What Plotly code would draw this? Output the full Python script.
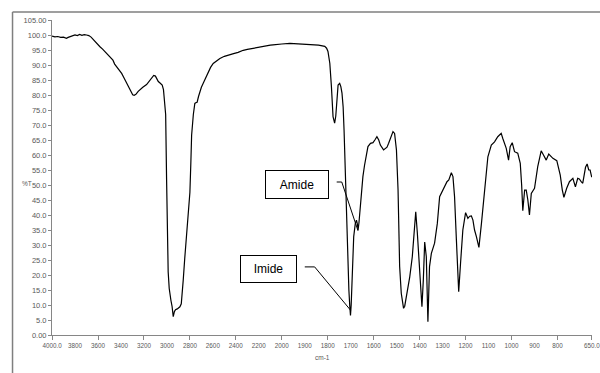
import plotly.graph_objects as go

# ---- data ----
wavenumber = [4000, 3975, 3950, 3925, 3900, 3875, 3860, 3840, 3820, 3800, 3780, 3760, 3740, 3720, 3700, 3680, 3660, 3640, 3620, 3600,
              3583, 3560, 3540, 3520, 3496, 3470, 3455, 3437, 3415, 3394, 3372, 3350, 3325, 3298, 3285, 3270, 3250, 3235, 3210, 3177,
              3150, 3130, 3115, 3100, 3090, 3075, 3060, 3041, 3030, 3020, 3011, 3003, 2995, 2989, 2980, 2974, 2965, 2955, 2945, 2935,
              2925, 2910, 2900, 2887, 2875, 2866, 2858, 2845, 2829, 2815, 2800, 2792, 2785, 2770, 2757, 2745, 2737, 2725, 2713, 2700,
              2684, 2660, 2641, 2620, 2597, 2570, 2539, 2500, 2452, 2420, 2380, 2336, 2300, 2250, 2200, 2150, 2100, 2076, 2040, 2000,
              1965, 1930, 1900, 1864, 1840, 1813, 1805, 1799, 1791, 1784, 1777, 1770, 1765, 1762, 1755, 1748, 1743, 1738, 1733, 1729,
              1722, 1714, 1708, 1704, 1701, 1698, 1696, 1690, 1687, 1680, 1675, 1671, 1668, 1664, 1661, 1655, 1647, 1640, 1632, 1625,
              1614, 1603, 1595, 1586, 1578, 1571, 1557, 1548, 1542, 1535, 1530, 1520, 1516, 1509, 1501, 1494, 1487, 1480, 1470, 1465,
              1458, 1443, 1432, 1425, 1417, 1410, 1400, 1390, 1384, 1378, 1371, 1364, 1357, 1349, 1335, 1323, 1313, 1299, 1290, 1281,
              1273, 1262, 1255, 1248, 1240, 1230, 1222, 1212, 1200, 1195, 1190, 1182, 1175, 1168, 1161, 1153, 1142, 1131, 1117, 1103,
              1088, 1074, 1060, 1045, 1038, 1030, 1023, 1013, 1006, 997, 987, 973, 962, 956, 951, 943, 936, 929, 922, 914,
              900, 886, 871, 861, 849, 838, 820, 803, 788, 779, 772, 760, 748, 733, 726, 722, 712, 705, 697, 690,
              678, 671, 664, 658, 651]
transmittance = [99.6, 99.4, 99.5, 99.2, 99.3, 98.9, 99.2, 99.5, 99.8, 100.0, 99.8, 100.2, 99.9, 100.1, 100.0, 99.8, 99.3, 98.4, 97.6, 96.8,
                 96.1, 95.3, 94.4, 93.6, 92.8, 91.6, 90.3, 89.4, 88.4, 87.2, 85.6, 83.9, 82.0, 80.1, 79.9, 80.2, 81.2, 81.8, 82.6, 83.5,
                 84.8, 86.0, 86.5, 86.3, 85.6, 84.5, 84.0, 83.3, 81.8, 78.5, 73.5, 52.0, 32.0, 21.0, 15.5, 13.5, 11.5, 9.5, 6.1, 7.8,
                 8.4, 8.7, 9.0, 9.4, 10.4, 13.5, 18.3, 25.5, 32.8, 40.5, 47.5, 57.0, 66.6, 73.5, 77.2, 77.5, 77.6, 79.5, 81.2, 82.6,
                 83.9, 86.0, 87.6, 89.2, 90.5, 91.3, 92.2, 92.9, 93.6, 93.8, 94.2, 94.9, 95.2, 95.6, 95.9, 96.4, 96.6, 96.7, 96.9, 97.0,
                 97.2, 97.0, 97.0, 96.7, 96.6, 96.2, 95.6, 94.5, 90.6, 82.8, 72.8, 70.6, 73.0, 76.1, 83.3, 83.9, 82.8, 80.6, 76.0, 68.3,
                 49.4, 27.2, 15.0, 9.4, 6.5, 10.0, 13.9, 26.0, 32.8, 37.2, 38.3, 37.0, 35.0, 37.5, 40.6, 46.0, 52.8, 56.5, 59.5, 62.8,
                 63.9, 64.1, 65.0, 66.1, 65.0, 63.3, 61.7, 62.3, 62.6, 63.9, 65.0, 67.0, 67.8, 67.2, 61.7, 48.3, 22.8, 13.9, 8.9, 9.6,
                 12.8, 19.4, 26.1, 33.9, 41.1, 33.9, 19.4, 9.4, 18.3, 31.0, 26.1, 4.4, 22.8, 27.2, 30.6, 37.2, 46.1, 48.3, 49.6, 51.1,
                 51.7, 54.1, 52.8, 46.1, 31.7, 14.4, 23.9, 35.0, 40.8, 40.0, 38.9, 39.6, 39.7, 38.3, 35.0, 32.8, 29.2, 37.2, 49.4, 59.4,
                 63.3, 64.4, 66.1, 67.2, 65.5, 63.9, 62.2, 58.3, 62.8, 64.1, 61.1, 60.6, 57.2, 50.0, 41.4, 48.3, 48.3, 45.0, 40.0, 47.2,
                 48.9, 56.1, 61.4, 60.0, 58.3, 60.3, 58.9, 58.1, 53.3, 48.3, 45.9, 48.9, 51.1, 52.2, 50.5, 49.4, 52.2, 52.0, 51.1, 50.6,
                 55.9, 57.0, 55.0, 55.0, 52.6]

x_tick_wn = [4000, 3800, 3600, 3400, 3200, 3000, 2800, 2600, 2400, 2200, 2000, 1900, 1800, 1700, 1600, 1500, 1400, 1300,
             1200, 1100, 1000, 900, 800, 650]
x_tick_labels = ["4000.0", "3800", "3600", "3400", "3200", "3000", "2800", "2600", "2400", "2200", "2000", "1900", "1800",
                 "1700", "1600", "1500", "1400", "1300", "1200", "1100", "1000", "900", "800", "650.0"]
x_mark_wn = [4000, 3600, 3200, 2800, 2400, 2000, 1800, 1600, 1400, 1200, 1000, 800, 650]
y_tick_vals = [0, 5, 10, 15, 20, 25, 30, 35, 40, 45, 50, 55, 60, 65, 70, 75, 80, 85, 90, 95, 100, 105]
y_tick_labels = ["0.00", "5.0", "10.0", "15.0", "20.0", "25.0", "30.0", "35.0", "40.0", "45.0", "50.0", "55.0", "60.0",
                 "65.0", "70.0", "75.0", "80.0", "85.0", "90.0", "95.0", "100.0", "105.00"]

# annotations: (text, box centre wn, box centre %T, leader points [(wn, %T), ...])
amide_label = ("Amide", 1935, 50.2, [(1761, 51.0), (1739, 51.0), (1668, 34.7)])
imide_label = ("Imide", 2118, 22.0, [(1900, 22.7), (1857, 22.7), (1701, 8.3)])


def u(w):
    """FTIR display scale: compressed above 2000 cm-1."""
    return (4000 - w) / 200 if w >= 2000 else 10 + (2000 - w) / 100


xs = [u(w) for w in wavenumber]
xr = [u(4000) - 0.002, u(650) + 0.002]

fig = go.Figure()
fig.add_trace(go.Scatter(x=xs, y=transmittance, mode="lines",
                         line=dict(color="black", width=1.2), showlegend=False, hoverinfo="skip"))
fig.add_trace(go.Scatter(x=[], y=[], xaxis="x2", showlegend=False))

axis_grey = "#868686"
tick_font_y = dict(family="Liberation Sans, Arial, sans-serif", size=7.5, color="#595959")
tick_font_x = dict(family="Liberation Sans, Arial, sans-serif", size=6.3, color="#595959")

fig.update_layout(
    width=600, height=373,
    margin=dict(l=52, r=8, t=20, b=38, autoexpand=False),
    paper_bgcolor="white", plot_bgcolor="white",
    xaxis=dict(range=xr, tickmode="array", tickvals=[u(w) for w in x_tick_wn], ticktext=x_tick_labels,
               ticks="outside", ticklen=4, tickcolor="rgba(0,0,0,0)", tickfont=tick_font_x,
               ticklabeloverflow="allow", automargin=False,
               showline=True, linecolor=axis_grey, linewidth=1, showgrid=False, zeroline=False, fixedrange=True),
    xaxis2=dict(range=xr, overlaying="x", anchor="y", side="bottom", tickmode="array",
                tickvals=[u(w) for w in x_mark_wn], showticklabels=False, ticks="outside", ticklen=4,
                tickcolor=axis_grey, tickwidth=1, showline=False, showgrid=False, zeroline=False, automargin=False),
    yaxis=dict(range=[0, 105], tickmode="array", tickvals=y_tick_vals, ticktext=y_tick_labels,
               ticks="outside", ticklen=3, tickcolor=axis_grey, tickfont=tick_font_y, automargin=False,
               showline=True, linecolor=axis_grey, linewidth=1, showgrid=False, zeroline=False),
)

# outer chart frame (top and left edges visible within the picture)
frame_line = dict(color="#7f7f7f", width=1.5)
fig.add_shape(type="line", xref="paper", yref="paper", x0=-0.0731, x1=1.2, y0=1.0254, y1=1.0254, line=frame_line)
fig.add_shape(type="line", xref="paper", yref="paper", x0=-0.0731, x1=-0.0731, y0=-0.3, y1=1.0254, line=frame_line)

# axis titles
fig.add_annotation(text="%T", xref="paper", yref="paper", x=-0.059, y=0.4825, showarrow=False,
                   font=dict(family="Liberation Sans, Arial, sans-serif", size=6.5, color="#595959"))
fig.add_annotation(text="cm-1", xref="paper", yref="paper", x=0.5, y=-0.088, showarrow=False,
                   font=dict(family="Liberation Sans, Arial, sans-serif", size=6.5, color="#595959"))

for (txt, bw, bt, pts), (bwid, bhei) in [(amide_label, (62, 27)), (imide_label, (55, 26))]:
    fig.add_annotation(text=txt, x=u(bw), y=bt, xref="x", yref="y", showarrow=False,
                       width=bwid, height=bhei, borderpad=0, bordercolor="black", borderwidth=1,
                       bgcolor="white", font=dict(family="Liberation Sans, Arial, sans-serif", size=12, color="black"))
    path = "M " + " L ".join(f"{u(w)},{t}" for w, t in pts)
    fig.add_shape(type="path", path=path, xref="x", yref="y", line=dict(color="black", width=1))

fig.write_html("out.html")
